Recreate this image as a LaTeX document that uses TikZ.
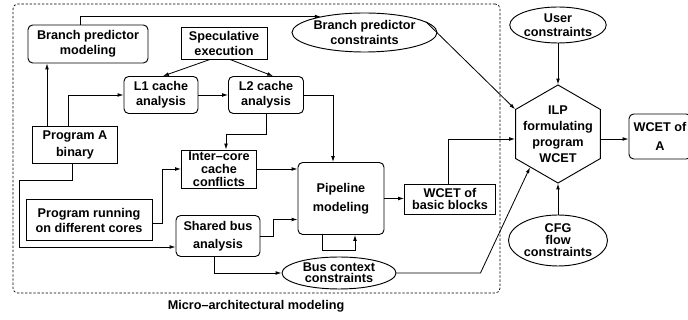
\documentclass[tikz,border=0pt]{standalone}
\usepackage{fontspec}
\setmainfont{Liberation Sans}
\usepackage{tikz}
\usetikzlibrary{positioning}
\usetikzlibrary{shapes.geometric, arrows.meta}

\begin{document}
\begin{tikzpicture}[
    x=0.03cm, y=-0.03cm,
    font=\fontsize{10.8}{12.8}\selectfont\bfseries,
    spaced/.style={
        font=\fontsize{10.8}{#1}\selectfont\bfseries
    },
    box/.style={
        rectangle,
        draw=black,
        line width=0.8pt,
        align=center,
        inner sep=0pt
    },
    rbox/.style={
        box,
        rounded corners=4pt
    },
    cons/.style={
        ellipse,
        draw=black,
        line width=0.8pt,
        align=center,
        inner sep=0pt
    },
    hexa/.style={
        regular polygon,
        regular polygon sides=6,
        shape border rotate=30,
        draw=black,
        line width=0.8pt,
        inner sep=0pt
    },
    flow/.style={
        -{Latex[length=5pt,width=3.2pt]},
        line width=0.7pt
    }
]
\useasboundingbox (0,0) rectangle (688,320);

% micro-architectural part
\node[draw=black, line width=0.6pt, dash pattern=on 2pt off 1.5pt, rounded corners=4pt,
      minimum width=14.61cm, minimum height=8.67cm, inner sep=0pt] (microArch) at (256.5,148.5) {};
\node (microLabel) at (256,306) {Micro--architectural modeling};

\node[rbox, minimum width=3.6cm, minimum height=1.14cm] (bpModel) at (88,44) {Branch predictor\\modeling};
\node[box, minimum width=2.58cm, minimum height=0.96cm] (specExec) at (224,43) {Speculative\\execution};
\node[rbox, minimum width=2.22cm, minimum height=1.11cm] (lOne) at (161,95) {L1 cache\\analysis};
\node[rbox, minimum width=2.25cm, minimum height=1.11cm] (lTwo) at (266,95) {L2 cache\\analysis};
\node[box, spaced=14.5pt, minimum width=2.55cm, minimum height=1.11cm] (progA) at (75,145) {Program A\\binary};
\node[box, spaced=11pt, minimum width=2.25cm, minimum height=1.14cm] (interCore) at (219,169) {Inter--core\\cache\\conflicts};
\node[box, minimum width=3.78cm, minimum height=1.23cm] (progCores) at (89,220) {Program running\\on different cores};
\node[rbox, spaced=15.4pt, minimum width=2.52cm, minimum height=1.23cm] (sharedBus) at (218,236) {Shared bus\\analysis};
\node[rbox, spaced=16.2pt, minimum width=2.58cm, minimum height=2.16cm] (pipeline) at (341,198.5) {Pipeline\\modeling};
\node[box, spaced=10pt, minimum width=2.73cm, minimum height=0.9cm] (wcetBB) at (450,199) {WCET of\\basic blocks};
\node[cons, spaced=9.4pt, minimum width=3.42cm, minimum height=0.96cm] (busCtx) at (339,273) {Bus context\\constraints};
\node[cons, spaced=13.6pt, minimum width=4.35cm, minimum height=1.17cm] (bpCons) at (364.5,32.5) {Branch predictor\\constraints};

% ILP part
\node[cons, spaced=12pt, minimum width=2.76cm, minimum height=1.08cm] (userCons) at (558,25) {User\\constraints};
\node[hexa, minimum size=2.94cm] (ilp) at (558,134) {};
\node[align=center, spaced=13.7pt] (ilpText) at (ilp.center) {ILP\\formulating\\program\\WCET};
\node[rbox, spaced=16.2pt, minimum width=1.86cm, minimum height=1.35cm] (wcetA) at (660,136.5) {WCET of\\A};
\node[cons, spaced=10.2pt, minimum width=2.97cm, minimum height=1.53cm] (cfgCons) at (558,240.5) {CFG\\flow\\constraints};

\draw[flow] ([xshift=-0.24cm]bpModel.north) |- (bpCons.160);
\draw[flow] ([xshift=-0.84cm]progA.north) coordinate (paUp) -- (paUp |- bpModel.south);
\draw[flow] ([xshift=-0.21cm]progA.north) |- (lOne.west);
\draw[flow] ([xshift=-0.42cm]specExec.south) -- ([xshift=0.06cm]lOne.north);
\draw[flow] ([xshift=0.18cm]specExec.south) -- ([xshift=0.21cm]lTwo.north);
\draw[flow] (lOne.east) -- (lTwo.west);
\draw[flow] (lTwo.east) -| ([xshift=-0.24cm]pipeline.north);
\draw[flow] (lTwo.south) -- ++(0,20) -| ([xshift=0.21cm]interCore.north);
\draw[flow] (interCore.east) -- (interCore.east -| pipeline.west);
\draw[flow] ([xshift=-0.09cm]progA.south) |- ++(-53,16) |- ([yshift=-0.33cm]sharedBus.west);
\draw[flow] ([yshift=-0.09cm]progCores.east) -- ++(10,0) |- (interCore.west);
\draw[flow] (sharedBus.east) -- ++(13,0) |- ([yshift=-0.63cm]pipeline.west);
\draw[flow] ([xshift=-0.12cm]sharedBus.south) |- (busCtx.west);
\draw[flow] ([xshift=-0.57cm]pipeline.south) -- ++(0,15) -| ([xshift=0.42cm]pipeline.south);
\draw[flow] (pipeline.east) -- (pipeline.east -| wcetBB.west);
\draw[flow] ([xshift=-0.06cm]wcetBB.north) |- ([yshift=-0.15cm]ilp.west);
\draw[flow] (bpCons.10) -- (ilp.150);
\draw[flow] (busCtx.east) -- ++(84,0) -- (ilp.230);
\draw[flow] (userCons.south) -- (ilp.north);
\draw[flow] (cfgCons.north) -- (ilp.south);
\draw[flow] ([yshift=-0.15cm]ilp.east) -- ([yshift=-0.15cm]ilp.east -| wcetA.west);

\end{tikzpicture}
\end{document}
